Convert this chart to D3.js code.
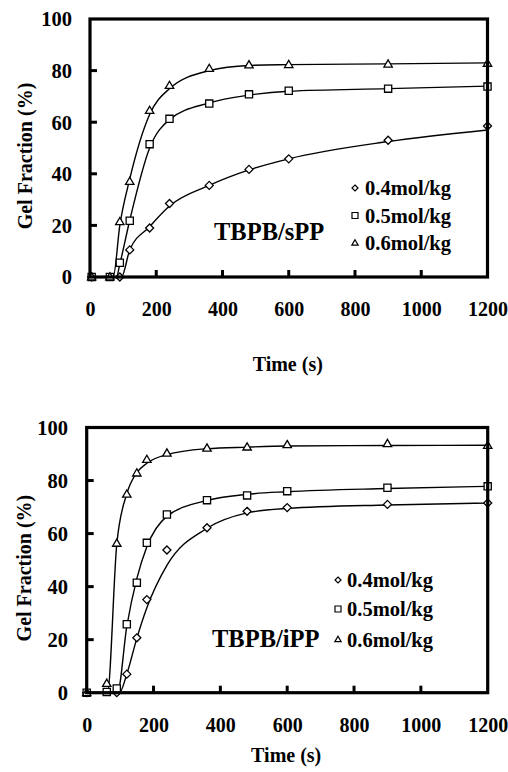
<!DOCTYPE html>
<html>
<head>
<meta charset="utf-8">
<script src="https://cdn.jsdelivr.net/npm/d3@7/dist/d3.min.js"></script>
<style>
  html, body { margin: 0; padding: 0; background: #fff; }
  svg text { font-family: "Liberation Serif", "Times New Roman", serif; font-weight: bold; fill: #000; }
</style>
</head>
<body>
<svg id="chart" width="508" height="772"></svg>
<script>
// ---------- data ----------
const xTicks = [0, 200, 400, 600, 800, 1000, 1200];
const yTicks = [0, 20, 40, 60, 80, 100];
const seriesLabels = ["0.4mol/kg", "0.5mol/kg", "0.6mol/kg"];
const seriesShapes = ["diamond", "square", "triangle"];

// Panel 1: TBPB/sPP
const sppTime04 = [5, 90, 120, 180, 240, 360, 480, 600, 900, 1200];
const sppGel04  = [0, 0, 10.5, 19, 28.5, 35.5, 41.7, 45.8, 53, 58.5];
const sppTime05 = [5, 60, 90, 120, 180, 240, 360, 480, 600, 900, 1200];
const sppGel05  = [0, 0, 5.5, 21.8, 51.5, 61.3, 67.2, 70.8, 72.2, 73, 73.8];
const sppTime06 = [5, 60, 90, 120, 180, 240, 360, 480, 600, 900, 1200];
const sppGel06  = [0, 0, 21.4, 37, 64.5, 74.2, 80.8, 82.2, 82.3, 82.5, 82.8];

// Panel 2: TBPB/iPP
const ippTime04 = [0, 90, 120, 150, 180, 240, 360, 480, 600, 900, 1200];
const ippGel04  = [0, 0, 7, 20.7, 35.1, 53.8, 62.2, 68.4, 69.8, 71, 71.5];
const ippTime05 = [0, 60, 90, 120, 150, 180, 240, 360, 480, 600, 900, 1200];
const ippGel05  = [0, 0.3, 1.6, 25.8, 41.5, 56.5, 67.2, 72.6, 74.4, 76, 77.3, 77.8];
const ippTime06 = [0, 60, 90, 120, 150, 180, 240, 360, 480, 600, 900, 1200];
const ippGel06  = [0, 3.5, 56.3, 74.8, 82.8, 87.9, 90.3, 92.2, 92.6, 93.5, 93.9, 93.2];

// fitted curves
const sppFitTime04 = [0, 95, 120, 180, 240, 360, 480, 600, 900, 1200];
const sppFitGel04  = [0, 0, 10.5, 19.5, 27.5, 35.5, 41.5, 45.8, 52.5, 57];
const sppFitTime05 = [0, 80, 90, 120, 180, 240, 360, 480, 600, 900, 1200];
const sppFitGel05  = [0, 0, 5, 22, 50, 61, 67.5, 70.5, 72, 73, 74];
const sppFitTime06 = [0, 70, 90, 120, 180, 240, 360, 480, 600, 900, 1200];
const sppFitGel06  = [0, 0, 20, 38, 63, 73, 80, 82, 82.3, 82.6, 83];

const ippFitTime04 = [0, 98, 120, 150, 180, 240, 360, 480, 600, 900, 1200];
const ippFitGel04  = [0, 0, 7, 20.5, 32, 48, 62, 67.8, 69.5, 70.8, 71.5];
const ippFitTime05 = [0, 92, 120, 150, 180, 240, 360, 480, 600, 900, 1200];
const ippFitGel05  = [0, 0, 25, 43, 55, 66.5, 72.5, 74.8, 75.8, 77, 77.8];
const ippFitTime06 = [0, 62, 90, 120, 150, 180, 240, 360, 480, 600, 900, 1200];
const ippFitGel06  = [0, 0, 56, 75, 83, 86.5, 89.8, 92, 92.6, 93, 93.2, 93.3];

const panels = [
  {
    title: "TBPB/sPP",
    x0: 90, x1: 487.5, yTop: 19, yBot: 277,
    times: [sppTime04, sppTime05, sppTime06],
    gels: [sppGel04, sppGel05, sppGel06],
    fitTimes: [sppFitTime04, sppFitTime05, sppFitTime06],
    fitGels: [sppFitGel04, sppFitGel05, sppFitGel06],
    tickLabelBase: 316, xTitleBase: 371, yTitleX: 32, yLabelRight: 72,
    legendX: 365, legendBase: [195, 222.5, 250], legendMarkerDx: -10,
    titleX: 214, titleBase: 240
  },
  {
    title: "TBPB/iPP",
    x0: 86.7, x1: 487.7, yTop: 427.5, yBot: 692.7,
    times: [ippTime04, ippTime05, ippTime06],
    gels: [ippGel04, ippGel05, ippGel06],
    fitTimes: [ippFitTime04, ippFitTime05, ippFitTime06],
    fitGels: [ippFitGel04, ippFitGel05, ippFitGel06],
    tickLabelBase: 732, xTitleBase: 762, yTitleX: 31, yLabelRight: 68,
    legendX: 347, legendBase: [587, 616, 646.5], legendMarkerDx: -9,
    titleX: 212, titleBase: 646.5
  }
];

// ---------- drawing ----------
const svg = d3.select("#chart");
const FONT = "'Liberation Serif', 'Times New Roman', serif";

function markerPath(shape, r) {
  if (shape === "diamond") {
    return `M0,${-r}L${r},0L0,${r}L${-r},0Z`;
  } else if (shape === "square") {
    return `M${-r},${-r}H${r}V${r}H${-r}Z`;
  } else {
    const h = r * 1.8;
    return `M0,${-h * 0.6}L${r * 1.05},${h * 0.4}L${-r * 1.05},${h * 0.4}Z`;
  }
}

panels.forEach(p => {
  const g = svg.append("g");
  const x = d3.scaleLinear().domain([0, 1200]).range([p.x0, p.x1]);
  const y = d3.scaleLinear().domain([0, 100]).range([p.yBot, p.yTop]);

  // fitted lines
  const line = d3.line().x(d => x(d[0])).y(d => y(d[1])).curve(d3.curveMonotoneX);
  p.fitTimes.forEach((ts, i) => {
    const pts = ts.map((t, j) => [t, p.fitGels[i][j]]);
    g.append("path").attr("d", line(pts))
      .attr("fill", "none").attr("stroke", "#000").attr("stroke-width", 1.4);
  });

  // markers
  p.times.forEach((ts, i) => {
    const pts = ts.map((t, j) => [t, p.gels[i][j]]);
    g.selectAll(null).data(pts).enter().append("path")
      .attr("d", markerPath(seriesShapes[i], seriesShapes[i] === "square" ? 3.6 : 4))
      .attr("transform", d => `translate(${x(d[0])},${y(d[1])})`)
      .attr("fill", "#fff").attr("stroke", "#000").attr("stroke-width", 1.3);
  });

  // frame
  g.append("rect")
    .attr("x", p.x0).attr("y", p.yTop)
    .attr("width", p.x1 - p.x0).attr("height", p.yBot - p.yTop)
    .attr("fill", "none").attr("stroke", "#000").attr("stroke-width", 3.2);

  // x axis (inward ticks)
  const xAxis = d3.axisBottom(x).tickValues(xTicks).tickFormat(d3.format("d")).tickSize(0).tickPadding(0);
  const xg = g.append("g").attr("transform", `translate(0,${p.yBot})`).call(xAxis)
    .attr("font-family", null).attr("font-size", null);
  xg.select(".domain").remove();
  xg.selectAll("text")
    .attr("y", p.tickLabelBase - p.yBot).attr("dy", null)
    .style("font-size", "20px").style("font-family", FONT).style("font-weight", "bold");
  g.selectAll(null).data(xTicks.filter(t => t > 0 && t < 1200)).enter().append("line")
    .attr("x1", d => x(d)).attr("x2", d => x(d))
    .attr("y1", p.yBot).attr("y2", p.yBot - 7)
    .attr("stroke", "#000").attr("stroke-width", 3);

  // y axis
  const yAxis = d3.axisLeft(y).tickValues(yTicks).tickFormat(d3.format("d")).tickSize(0).tickPadding(0);
  const yg = g.append("g").attr("transform", `translate(${p.yLabelRight},0)`).call(yAxis)
    .attr("font-family", null).attr("font-size", null);
  yg.select(".domain").remove();
  yg.selectAll("text")
    .attr("x", 0).attr("dy", "0.34em")
    .style("font-size", "20.5px").style("font-family", FONT).style("font-weight", "bold");
  g.selectAll(null).data(yTicks.filter(t => t > 0 && t < 100)).enter().append("line")
    .attr("x1", p.x0).attr("x2", p.x0 + 7)
    .attr("y1", d => y(d)).attr("y2", d => y(d))
    .attr("stroke", "#000").attr("stroke-width", 3);

  // axis titles
  g.append("text")
    .attr("x", (p.x0 + p.x1) / 2 - 1).attr("y", p.xTitleBase)
    .attr("text-anchor", "middle").style("font-size", "20px")
    .text("Time (s)");
  g.append("text")
    .attr("transform", `translate(${p.yTitleX},${(p.yTop + p.yBot) / 2 + 8}) rotate(-90)`)
    .attr("text-anchor", "middle").style("font-size", "20px")
    .text("Gel Fraction (%)");

  // panel label
  g.append("text")
    .attr("x", p.titleX).attr("y", p.titleBase)
    .style("font-size", "24.5px")
    .text(p.title);

  // legend
  seriesLabels.forEach((lab, i) => {
    g.append("path")
      .attr("d", markerPath(seriesShapes[i], 3))
      .attr("transform", `translate(${p.legendX + p.legendMarkerDx},${p.legendBase[i] - 7})`)
      .attr("fill", "#fff").attr("stroke", "#000").attr("stroke-width", 1.2);
    g.append("text")
      .attr("x", p.legendX).attr("y", p.legendBase[i])
      .style("font-size", "20.5px")
      .text(lab);
  });
});
</script>
</body>
</html>
